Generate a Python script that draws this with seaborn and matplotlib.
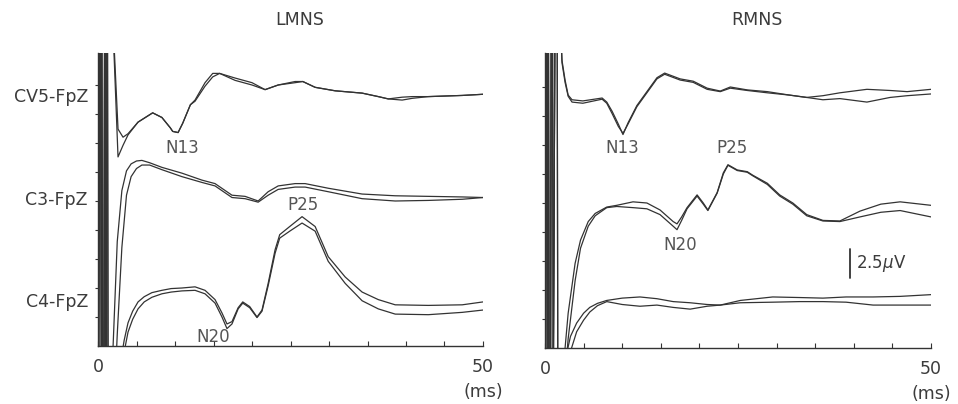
import matplotlib
matplotlib.use("Agg")
import matplotlib.pyplot as plt
import seaborn as sns
import pandas as pd
import numpy as np

sns.set_style("ticks")
plt.rcParams['font.family'] = ['DejaVu Sans']

INK = '#333333'
TXT = '#3c3c3c'

panels = ['LMNS', 'RMNS']
channels = ['CV5-FpZ', 'C3-FpZ', 'C4-FpZ']
label_uv = [21.5, 12.6, 3.8]   # where the channel names sit (uV)

# stimulus artifact: off-scale swings right after 0 ms (one list per run)
stim_t = {'LMNS': [[0.0, 0.25, 0.6, 0.95], [0.1, 0.4, 0.75, 1.15]],
          'RMNS': [[0.0, 0.2, 0.55, 0.9], [0.1, 0.35, 0.7, 1.5]]}
stim_v = [0, 60, -60, 60]

# ---- LMNS ----
lm_cv5_t = [1.8, 2.6, 3.25, 3.9, 5.2, 7.1, 8.3, 9.4, 9.7, 10.4, 11.0, 12.0, 12.6, 13.9, 14.9, 15.8,
            17.8, 20.0, 21.7, 23.4, 25.6, 26.6, 28.2, 30.8, 34.3, 36.4, 37.7, 39.5, 40.8, 42.9, 47.3, 50]
lm_cv5_a = [30, 16.3, 17.3, 18.2, 19.3, 20.1, 19.7, 18.8, 18.5, 18.4, 19.2, 20.8, 21.2, 22.7, 23.5, 23.5,
            22.9, 22.5, 22.1, 22.5, 22.7, 22.8, 22.3, 22.0, 21.8, 21.5, 21.3, 21.45, 21.5, 21.5, 21.6, 21.7]
lm_cv5_b = [30, 18.7, 18.0, 18.3, 19.3, 20.1, 19.7, 18.8, 18.5, 18.4, 19.2, 20.8, 21.1, 22.4, 23.2, 23.5,
            23.1, 22.7, 22.1, 22.5, 22.8, 22.8, 22.3, 22.0, 21.8, 21.5, 21.3, 21.2, 21.35, 21.5, 21.6, 21.7]

lm_c3_t = [1.9, 2.5, 3.1, 3.7, 4.3, 5.0, 5.7, 6.7, 8.3, 10.9, 13.5, 15.2, 17.4, 19.1, 20.8, 22.1,
           23.4, 25.6, 26.9, 29.9, 34.3, 38.6, 42.9, 47.3, 50]
lm_c3_a = [-1, 9.0, 13.4, 15.1, 15.7, 15.95, 16.0, 15.8, 15.4, 14.9, 14.3, 14.0, 13.0, 12.9, 12.5, 13.3,
           13.8, 14.0, 14.0, 13.6, 13.1, 12.95, 12.9, 12.85, 12.8]
lm_c3_b = [-8, 1.0, 8.5, 13.0, 14.6, 15.3, 15.6, 15.6, 15.2, 14.6, 14.1, 13.8, 12.8, 12.7, 12.4, 13.0,
           13.5, 13.7, 13.7, 13.3, 12.7, 12.5, 12.55, 12.65, 12.8]

lm_c4_t = [2.9, 3.4, 3.9, 4.5, 5.2, 6.0, 7.0, 8.3, 9.5, 10.9, 12.6, 13.9, 15.2, 16.1, 16.75, 17.4, 18.2,
           18.8, 19.7, 20.65, 21.3, 22.1, 23.0, 23.6, 24.9, 26.5, 28.2, 29.9, 32.1, 34.3, 36.4, 38.6,
           42.9, 47.3, 50]
lm_c4_a = [-1.5, 0.5, 2.0, 3.0, 3.8, 4.25, 4.6, 4.8, 4.95, 5.0, 5.1, 4.8, 4.0, 2.85, 1.9, 2.1, 3.3,
           3.8, 3.4, 2.5, 3.1, 5.4, 8.3, 9.6, 10.3, 11.15, 10.3, 7.7, 5.95, 4.65, 4.0, 3.55,
           3.5, 3.55, 3.8]
lm_c4_b = [-4, -0.5, 1.2, 2.3, 3.2, 3.8, 4.2, 4.5, 4.65, 4.75, 4.8, 4.5, 3.7, 2.5, 1.5, 1.9, 3.2,
           3.7, 3.3, 2.45, 3.0, 5.2, 8.0, 9.3, 9.9, 10.6, 9.9, 7.3, 5.4, 3.9, 3.2, 2.75,
           2.7, 2.9, 3.1]

# ---- RMNS ----
rm_cv5_t = [1.9, 2.2, 2.6, 3.0, 3.5, 4.9, 7.4, 8.0, 8.7, 9.5, 10.1, 10.75, 11.9, 13.2, 14.5, 15.5,
            17.5, 19.2, 21.0, 22.7, 24.0, 26.2, 28.8, 31.7, 33.9, 36.0, 38.2, 41.7, 44.7, 46.9, 50]
rm_cv5_a = [30, 24.8, 23.1, 21.8, 21.4, 21.3, 21.55, 21.2, 20.4, 19.3, 18.4, 19.4, 20.9, 22.1, 23.3, 23.7,
            23.2, 23.0, 22.4, 22.15, 22.5, 22.25, 22.1, 21.8, 21.6, 21.75, 22.0, 22.3, 22.2, 22.1, 22.3]
rm_cv5_b = [30, 24.6, 22.9, 21.7, 21.2, 21.1, 21.45, 21.1, 20.2, 19.1, 18.5, 19.3, 20.8, 22.0, 23.2, 23.6,
            23.1, 22.9, 22.3, 22.1, 22.4, 22.2, 22.0, 21.8, 21.6, 21.4, 21.5, 21.2, 21.6, 21.75, 21.9]

rm_c3_t = [2.4, 3.0, 3.9, 4.6, 5.6, 6.5, 8.0, 9.3, 11.4, 13.2, 14.9, 16.6, 17.1, 17.7, 18.4, 19.7,
           20.5, 21.1, 22.3, 23.1, 23.7, 24.9, 26.2, 26.9, 28.8, 30.4, 32.1, 33.9, 36.0, 38.2,
           40.8, 43.5, 46.0, 50]
rm_c3_a = [-1.5, 3.0, 7.3, 9.3, 10.9, 11.6, 12.15, 12.3, 12.6, 12.5, 11.9, 10.9, 10.7, 11.3, 12.1, 13.2,
           12.5, 11.9, 13.4, 15.1, 15.8, 15.35, 15.2, 14.9, 14.2, 13.2, 12.5, 11.5, 11.0, 10.95,
           11.8, 12.4, 12.6, 12.3]
rm_c3_b = [-4, 0.8, 5.8, 8.6, 10.5, 11.4, 12.1, 12.2, 12.1, 12.0, 11.5, 10.5, 10.2, 11.0, 12.0, 13.1,
           12.4, 11.85, 13.35, 15.0, 15.75, 15.3, 15.15, 14.85, 14.1, 13.1, 12.4, 11.4, 10.95, 10.9,
           11.3, 11.7, 11.85, 11.3]

rm_c4_t = [2.8, 3.3, 4.1, 5.0, 5.8, 6.8, 8.0, 10.0, 12.3, 14.5, 16.6, 18.8, 21.0, 22.7, 25.3, 29.5,
           33.0, 36.0, 39.0, 42.5, 46.0, 50]
rm_c4_a = [-0.5, 1.0, 2.15, 3.0, 3.5, 3.85, 4.1, 4.3, 4.4, 4.25, 4.0, 3.9, 3.75, 3.7, 4.1, 4.4,
           4.35, 4.3, 4.4, 4.4, 4.45, 4.6]
rm_c4_b = [-2, -0.3, 1.4, 2.4, 3.1, 3.65, 4.0, 3.75, 3.6, 3.7, 3.5, 3.35, 3.6, 3.7, 3.9, 3.95,
           4.0, 4.0, 3.95, 3.7, 3.7, 3.7]

traces = {
    'LMNS': [(lm_cv5_t, lm_cv5_a, lm_cv5_b), (lm_c3_t, lm_c3_a, lm_c3_b), (lm_c4_t, lm_c4_a, lm_c4_b)],
    'RMNS': [(rm_cv5_t, rm_cv5_a, rm_cv5_b), (rm_c3_t, rm_c3_a, rm_c3_b), (rm_c4_t, rm_c4_a, rm_c4_b)],
}

# peak labels (ms, uV)
peaks = {
    'LMNS': [('N13', 10.9, 17.1), ('P25', 26.6, 12.15), ('N20', 14.9, 0.8)],
    'RMNS': [('N13', 10.0, 17.2), ('P25', 24.2, 17.2), ('N20', 17.5, 8.9)],
}
cal_uv = 2.5
cal_pos = (39.5, 6.0)

rows = []
for p in panels:
    for ci, (t, a, b) in enumerate(traces[p]):
        for ri, v in enumerate([a, b]):
            st = list(stim_t[p][ri])
            sv = list(stim_v)
            if v[0] < 0:          # trace comes back in from below
                st.append(st[-1] + 0.3)
                sv.append(-60)
            for tt, vv in zip(st + list(t), sv + list(v)):
                rows.append((p, channels[ci], f'{ci}-{ri}', tt, vv))
df = pd.DataFrame(rows, columns=['panel', 'channel', 'trace', 't', 'uv'])

fig = plt.figure(figsize=(9.58, 4.04), dpi=100)
boxes = {'LMNS': [98 / 958, 58 / 404, 385 / 958, 293 / 404],
         'RMNS': [545 / 958, 56 / 404, 386 / 958, 295 / 404]}
title_x = {'LMNS': 300 / 958, 'RMNS': 757 / 958}

for p in panels:
    ax = fig.add_axes(boxes[p])
    sns.lineplot(data=df[df.panel == p], x='t', y='uv', units='trace', estimator=None,
                 sort=False, color=INK, lw=0.9, legend=False, ax=ax)
    ax.set_xlim(0, 50)
    ax.set_ylim(0, boxes[p][3] * 404 / 11.6)
    ax.set_xlabel('')
    ax.set_ylabel('')
    for s in ['top', 'right']:
        ax.spines[s].set_visible(False)
    for s in ['left', 'bottom']:
        ax.spines[s].set_color(INK)
        ax.spines[s].set_linewidth(1.0)

    ax.set_xticks(np.arange(0, 51, 5))
    ax.set_xticklabels(['0'] + [''] * 9 + ['50'])
    ax.tick_params(axis='x', direction='in', length=3.5, width=0.8, colors=INK,
                   labelcolor=TXT, labelsize=12.5, pad=9)
    ax.set_yticks(np.arange(2.5, 23, 2.5))
    ax.set_yticklabels([])
    ax.tick_params(axis='y', direction='out', length=2.5, width=0.8, colors=INK)

    ax.annotate('(ms)', xy=(50, 0), xytext=(0, -46), textcoords='offset pixels',
                ha='center', va='center', fontsize=12.5, color=TXT, annotation_clip=False)

    for name, tx, ty in peaks[p]:
        ax.text(tx, ty, name, ha='center', va='center', fontsize=12, color='#555555')

    fig.text(title_x[p], 1 - 20 / 404, p, ha='center', va='center', fontsize=12.5, color=TXT)

    if p == 'LMNS':
        for ch, y in zip(channels, label_uv):
            ax.annotate(ch, xy=(0, y), xytext=(-10, 0), textcoords='offset pixels',
                        ha='right', va='center', fontsize=12.5, color=TXT, annotation_clip=False)
    else:
        x0, y0 = cal_pos
        ax.plot([x0, x0], [y0, y0 + cal_uv], color=INK, lw=1.3)
        ax.text(x0 + 0.8, y0 + cal_uv / 2, '2.5$\\mu$V', ha='left', va='center',
                fontsize=12, color=TXT)

fig.savefig('out.png', dpi=100)
